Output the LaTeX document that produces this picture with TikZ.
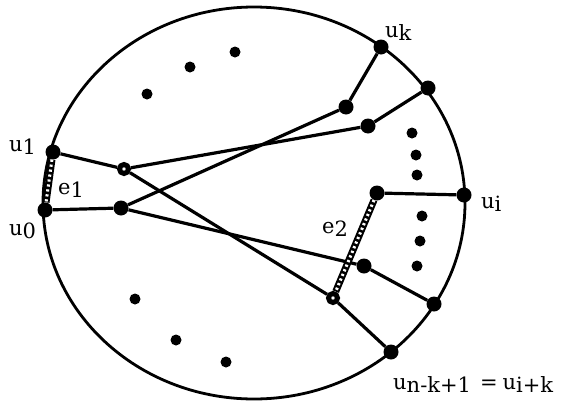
\documentclass[tikz,border=0pt]{standalone}
\usepackage{fontspec}
\setmainfont{DejaVu Serif}
\newcommand{\lowsub}[1]{\raisebox{-3.5pt}{#1}}
\tikzset{
  vtx/.style={circle,fill=black,inner sep=0pt,minimum size=15pt},
  ring/.style={circle,fill=white,draw=black,line width=5pt,inner sep=0pt,minimum size=9pt},
  edge/.style={line width=3.2pt},
  chainblack/.style={line width=7pt,black},
  chainwhite/.style={line width=3pt,white,dash pattern=on 2.2pt off 2.8pt},
  lbl/.style={anchor=base west,inner sep=0pt,font=\fontsize{21}{25}\selectfont}
}
\begin{document}
\begin{tikzpicture}[x=1pt,y=-1pt]
\useasboundingbox (0,0) rectangle (562,407);
% boundary
\draw[line width=2.8pt] (254,203) ellipse [x radius=211pt, y radius=196pt];
% ellipsis dots
\foreach \px/\py in {235/52,190/67,147/94,412/133,416/155,417/175,422/216,420/241,417/266,135/299,176/340,226/362}
  \fill (\px,\py) circle (5.5pt);
% vertices
\node[vtx] (u1) at (53,152) {};
\node[vtx] (u0) at (45,210) {};
\node[ring] (a) at (124,169) {};
\node[vtx] (b) at (121,208) {};
\node[vtx] (uk) at (381,47) {};
\node[vtx] (p) at (346,107) {};
\node[vtx] (r) at (428,88) {};
\node[vtx] (q) at (368,126) {};
\node[vtx] (s) at (377,193) {};
\node[vtx] (ui) at (464,195) {};
\node[vtx] (t) at (364,266) {};
\node[ring] (w) at (333,298) {};
\node[vtx] (v) at (434,304) {};
\node[vtx] (un) at (391,352) {};
% edges
\draw[edge] (u1) -- (a);
\draw[edge] (a) -- (q);
\draw[edge] (a) -- (w);
\draw[edge] (u0) -- (b);
\draw[edge] (b) -- (p);
\draw[edge] (b) -- (t);
\draw[edge] (p) -- (uk);
\draw[edge] (q) -- (r);
\draw[edge] (s) -- (ui);
\draw[edge] (t) -- (v);
\draw[edge] (w) -- (un);
% wavy edges e1, e2
\draw[chainblack] (u1) -- (u0);
\draw[chainwhite] (u1) -- (u0);
\draw[chainblack] (s) -- (w);
\draw[chainwhite] (s) -- (w);
% labels
\node[lbl] (lu1) at (9,151) {u\lowsub{1}};
\node[lbl] (lu0) at (9,235) {u\lowsub{0}};
\node[lbl] (luk) at (385,37) {u\lowsub{k}};
\node[lbl] (lui) at (481,208) {u\lowsub{i}};
\node[lbl] (le1) at (58,194) {e\lowsub{1}};
\node[lbl] (le2) at (322,233) {e\lowsub{2}};
\node[lbl] (lun) at (393,389) {u\lowsub{n-k+1}\hspace{9pt}=\hspace{5pt}u\lowsub{i+k}};
\end{tikzpicture}
\end{document}
